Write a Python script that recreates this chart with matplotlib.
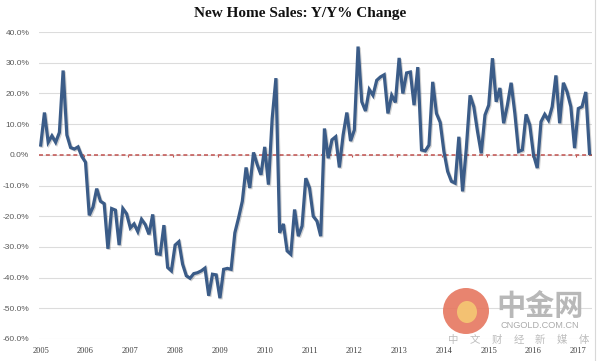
import matplotlib
matplotlib.use('Agg')
import matplotlib.pyplot as plt
import matplotlib.patheffects as pe
from matplotlib.patches import Ellipse

# monthly y/y change in new home sales, Jan 2005 - Apr 2017 (%)
yoy_2005_2008 = [3.2, 13.8, 4.1, 6.2, 4.1, 7.3, 27.5, 6.5, 2.4, 1.9, 2.6, -0.5,
                 -2.4, -19.7, -17.0, -11.0, -15.1, -15.9, -30.6, -17.5, -18.0, -29.4, -17.5, -19.2,
                 -23.8, -22.5, -25.0, -21.0, -22.7, -25.9, -19.4, -32.2, -32.4, -22.9, -36.7, -37.8,
                 -29.4, -28.3, -35.6, -39.4, -40.2, -38.7, -38.4, -37.8, -36.9, -45.9, -38.9, -39.1]
yoy_2009_2012 = [-46.7, -37.3, -37.0, -37.3, -25.4, -20.5, -15.1, -4.1, -10.8, 0.8, -3.2, -6.5,
                 2.6, -9.7, 11.9, 25.0, -25.4, -22.5, -31.3, -32.4, -17.8, -26.5, -23.2, -7.6,
                 -10.8, -20.0, -21.6, -26.5, 8.6, -1.1, 4.9, 5.9, -4.1, 6.5, 13.8, 4.5,
                 8.1, 35.3, 17.3, 14.3, 21.3, 19.4, 24.3, 25.4, 26.1, 13.5, 19.4, 17.1]
yoy_2013_2017 = [31.6, 20.0, 26.7, 27.0, 16.2, 28.6, 1.6, 1.3, 3.2, 23.8, 13.5, 10.6,
                 1.1, -5.4, -8.6, -9.2, 5.9, -11.9, 2.2, 19.4, 15.7, 7.6, 0.5, 13.0,
                 16.2, 31.5, 17.3, 21.8, 10.3, 16.2, 23.5, 13.5, 1.1, 1.6, 13.2, 9.7,
                 0.0, -4.3, 10.8, 13.2, 11.3, 15.7, 25.9, 10.3, 23.5, 20.5, 15.7, 2.2,
                 15.1, 15.7, 20.5, 0.5]
yoy = yoy_2005_2008 + yoy_2009_2012 + yoy_2013_2017
months = list(range(len(yoy)))

years = list(range(2005, 2018))
y_ticks = [40, 30, 20, 10, 0, -10, -20, -30, -40, -50, -60]

fig = plt.figure(figsize=(6.0, 3.61), dpi=100)
ax = fig.add_axes([0.065, 0.061, 0.9217, 0.850])

ax.set_xlim(-0.46, 147.67)
ax.set_ylim(-60, 40)

for spine in ax.spines.values():
    spine.set_visible(False)

for v in y_ticks:
    ax.axhline(v, color='#dcdcdc', lw=0.8, zorder=1)

# red dashed zero axis with small ticks between years
ax.axhline(0, color='#c0504d', lw=1.1, dashes=(2.6, 1.9), zorder=2)
ax.vlines([12 * k - 0.5 for k in range(1, len(years))], -0.8, 0,
          color='#c0504d', lw=0.8, zorder=2)

ax.plot(months, yoy, color='#3b5c88', lw=2.3, solid_joinstyle='miter', zorder=3,
        path_effects=[pe.SimpleLineShadow(offset=(0.8, -0.8), alpha=0.18),
                      pe.Normal()])

ax.set_yticks(y_ticks)
ax.set_yticklabels(['%.1f%%' % v for v in y_ticks], fontsize=6,
                   family='Liberation Sans', color='#595959')
ax.set_xticks([12 * k for k in range(len(years))])
ax.set_xticklabels([str(y) for y in years], fontsize=6,
                   family='Liberation Serif', color='#404040')
ax.tick_params(axis='both', length=0)
ax.tick_params(axis='y', pad=7)
ax.tick_params(axis='x', pad=6)

fig.text(0.5, 0.962, 'New Home Sales: Y/Y% Change', ha='center', va='center',
         fontsize=11, fontweight='bold', family='Liberation Serif', color='#111111')

# watermark
logo = Ellipse((466 / 600, 1 - 311 / 361), 46 / 600, 46 / 361, transform=fig.transFigure,
               facecolor='#e6775f', edgecolor='none', alpha=0.9, zorder=0)
fig.patches.append(logo)
inner = Ellipse((467 / 600, 1 - 312 / 361), 20 / 600, 22 / 361, transform=fig.transFigure,
                facecolor='#f5c873', edgecolor='none', alpha=0.9, zorder=0)
fig.patches.append(inner)
fig.text(540 / 600, 1 - 306 / 361, '中金网', ha='center', va='center', fontsize=21,
         fontweight='bold', family='Noto Sans CJK SC', color='#b8b8b8', zorder=0)
fig.text(540 / 600, 1 - 325 / 361, 'CNGOLD.COM.CN', ha='center', va='center', fontsize=6.6,
         family='Liberation Sans', color='#ababab', zorder=0)
for i, ch in enumerate('中文财经新媒体'):
    fig.text((453 + i * 21.8) / 600, 1 - 340 / 361, ch, ha='center', va='center', fontsize=7.5,
             family='Noto Sans CJK SC', color='#bdbdbd', zorder=0)

# thin frame
fig.add_artist(plt.Line2D([595 / 600, 595 / 600], [0, 1], transform=fig.transFigure,
                          color='#d8d8d8', lw=0.8))

fig.savefig('out.png', dpi=100, facecolor='white')
